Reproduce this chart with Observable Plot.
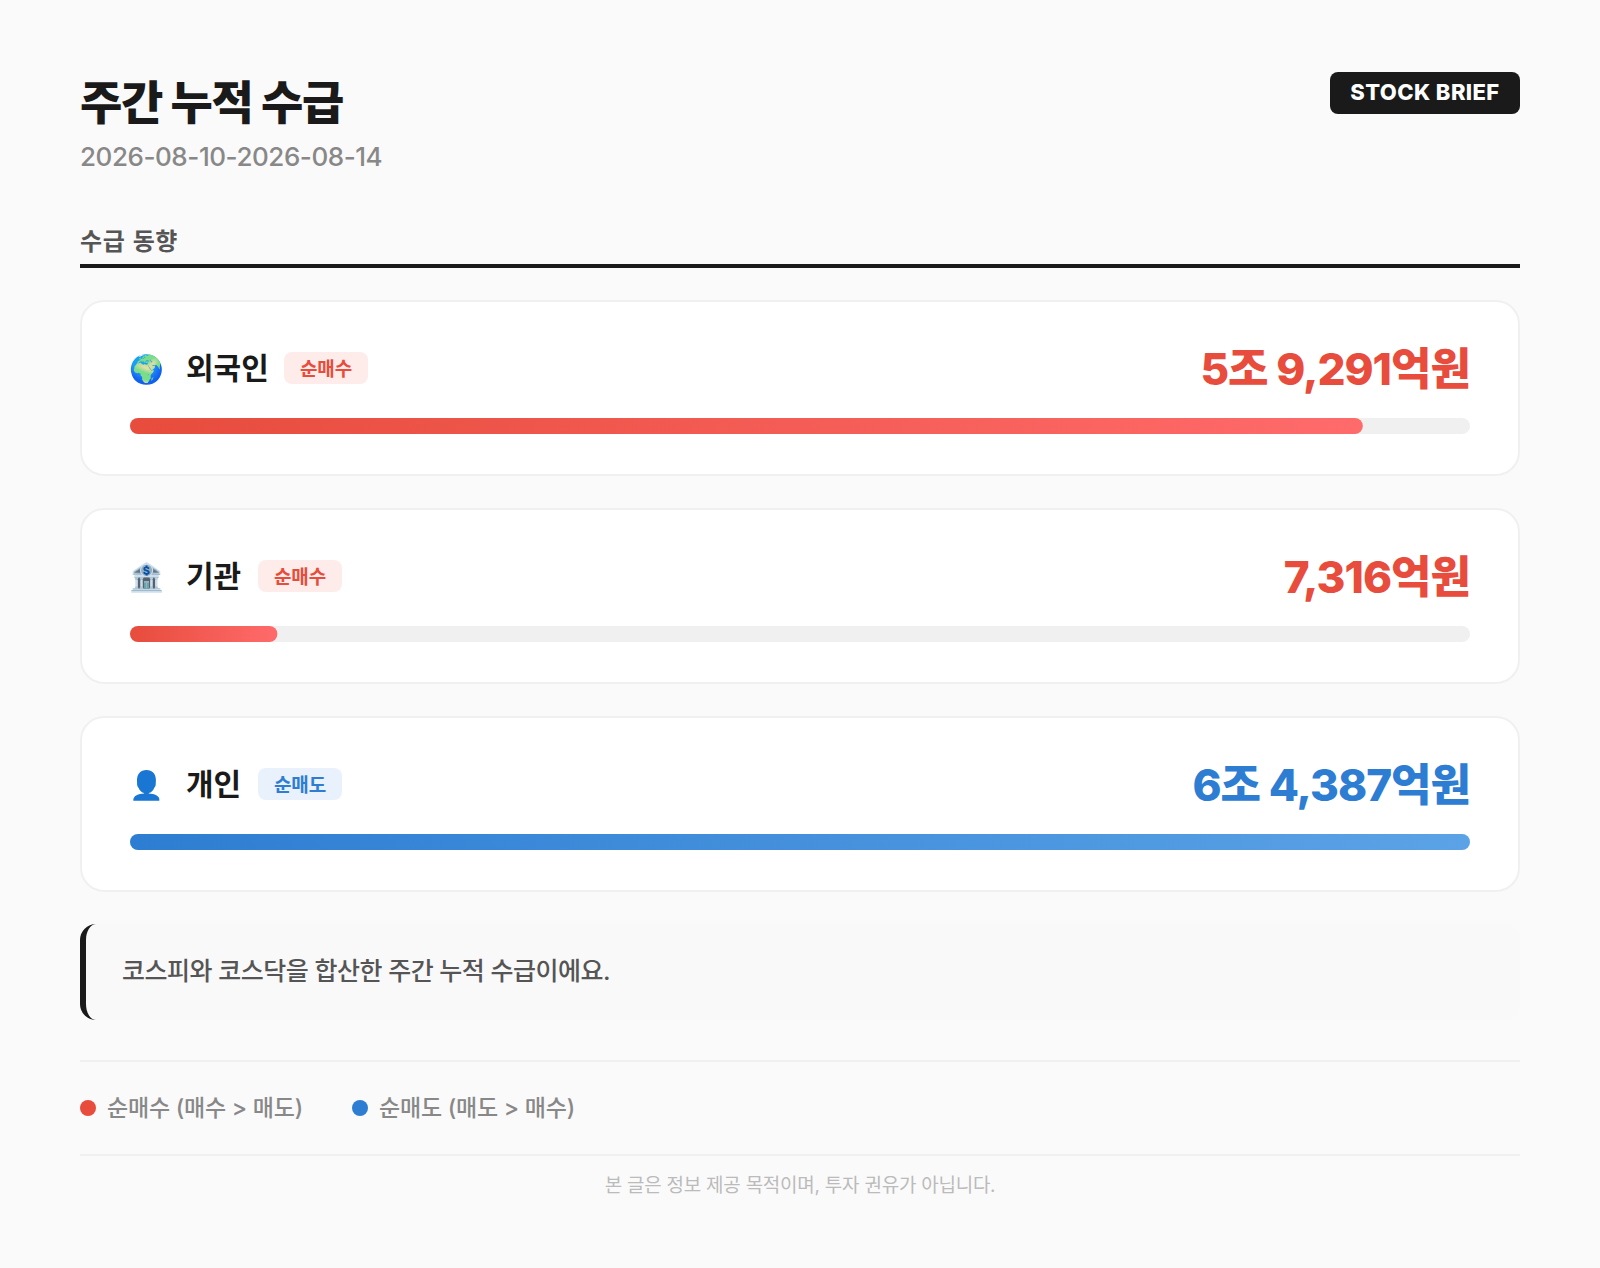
<!DOCTYPE html>
<html lang="ko">
<head>
<meta charset="utf-8">
<script src="https://cdn.jsdelivr.net/npm/d3@7"></script>
<script src="https://cdn.jsdelivr.net/npm/@observablehq/plot@0.6"></script>
<style>
*{box-sizing:border-box}
html,body{margin:0;padding:0;background:#fafafa}
body{width:1600px;height:1268px;position:relative;overflow:hidden;font-family:Inter,"Noto Sans CJK KR",sans-serif;color:#1a1a1a}
.abs{position:absolute;white-space:nowrap}
#title{left:80px;top:70px;font-size:46px;font-weight:800;line-height:64px;letter-spacing:-1.4px}
#sub{left:80px;top:140px;font-size:26px;font-weight:500;line-height:34px;color:#888;letter-spacing:-.44px}
#badge{left:1330px;top:72px;width:190px;height:42px;background:#1a1a1a;color:#fff;border-radius:8px;font-size:22px;font-weight:800;letter-spacing:.4px;line-height:41px;text-align:center}
#section{left:80px;top:225px;width:1440px;height:43px;border-bottom:4px solid #1a1a1a;font-size:24px;font-weight:700;color:#555;letter-spacing:.6px;line-height:34px;word-spacing:1px}
.card{position:absolute;left:80px;width:1440px;height:176px;background:#fff;border:2px solid #f0f0f0;border-radius:24px}
.ico{position:absolute;left:47px;top:51px;width:32px;height:32px;font-size:28px;line-height:32px}
.name{position:absolute;left:104px;top:44px;font-size:30px;font-weight:700;line-height:44px;white-space:nowrap;letter-spacing:0}
.pill{position:absolute;top:50px;width:84px;height:32px;border-radius:8px;font-size:19px;font-weight:700;line-height:35px;text-align:center;letter-spacing:-.2px}
.val{position:absolute;right:48px;top:35px;font-size:44px;font-weight:800;line-height:64px;white-space:nowrap;letter-spacing:-1px}
.plot{position:absolute;left:48px;top:116px;width:1340px;height:16px}
.plot svg{display:block}
#note{left:80px;top:924px;width:1440px;height:96px;background:#f9f9f9;border-left:6px solid #1a1a1a;border-radius:16px;padding-left:36px;font-size:25px;font-weight:500;line-height:94px;color:#555;letter-spacing:-.49px}
.hr{position:absolute;left:80px;width:1440px;height:2px;background:#f0f0f0}
.dot{position:absolute;top:1100px;width:16px;height:16px;border-radius:50%}
.leg{top:1090px;font-size:23px;line-height:36px;font-weight:500;color:#888;letter-spacing:-.22px}
#foot{left:80px;width:1440px;top:1171px;text-align:center;font-size:19px;line-height:30px;color:#bbb;letter-spacing:-.25px}
</style>
</head>
<body>
<div class="abs" id="title">주간 누적 수급</div>
<div class="abs" id="sub">2026-08-10-2026-08-14</div>
<div class="abs" id="badge">STOCK BRIEF</div>
<div class="abs" id="section">수급 동향</div>
<div id="cards"></div>
<div class="abs" id="note">코스피와 코스닥을 합산한 주간 누적 수급이에요.</div>
<div class="hr" style="top:1060px"></div>
<div class="dot" style="left:80px;background:#e74c3c"></div>
<div class="abs leg" style="left:107px">순매수 (매수 &gt; 매도)</div>
<div class="dot" style="left:352px;background:#2d7dd2"></div>
<div class="abs leg" style="left:379px">순매도 (매도 &gt; 매수)</div>
<div class="hr" style="top:1154px"></div>
<div class="abs" id="foot">본 글은 정보 제공 목적이며, 투자 권유가 아닙니다.</div>
<script>
const investors = ["외국인", "기관", "개인"];
const icons = ["🌍", "🏦", "👤"];
const directions = ["순매수", "순매수", "순매도"];
const amountLabels = ["5조 9,291억원", "7,316억원", "6조 4,387억원"];
const barShares = [92, 11, 100];
const scaleMax = 100;
const palette = {
  "순매수": {text: "#e74c3c", pill: "#fdecea", from: "#e74c3c", to: "#ff6b6b"},
  "순매도": {text: "#2d7dd2", pill: "#e8f1fc", from: "#2d7dd2", to: "#5ba3e6"}
};
const pillLeft = [202, 176, 176];
const cards = document.getElementById("cards");
investors.forEach((name, i) => {
  const p = palette[directions[i]];
  const card = document.createElement("div");
  card.className = "card";
  card.style.top = (300 + 208 * i) + "px";
  card.innerHTML = `<div class="ico">${icons[i]}</div><div class="name">${name}</div>` +
    `<div class="pill" style="left:${pillLeft[i]}px;background:${p.pill};color:${p.text}">${directions[i]}</div>` +
    `<div class="val" style="color:${p.text}">${amountLabels[i]}</div><div class="plot"></div>`;
  cards.appendChild(card);
  const gid = "grad" + i;
  const chart = Plot.plot({
    width: 1340, height: 16,
    margin: 0,
    x: {domain: [0, scaleMax], axis: null},
    y: {domain: [name], axis: null, padding: 0},
    marks: [
      Plot.barX([scaleMax], {x: d => d, y: () => name, fill: "#f0f0f0", rx: 8}),
      Plot.barX([barShares[i]], {x: d => d, y: () => name, fill: `url(#${gid})`, rx: 8})
    ],
    style: {background: "transparent"}
  });
  const defs = d3.create("svg:defs");
  const g = defs.append("linearGradient").attr("id", gid);
  g.append("stop").attr("offset", "0%").attr("stop-color", p.from);
  g.append("stop").attr("offset", "100%").attr("stop-color", p.to);
  chart.prepend(defs.node());
  card.querySelector(".plot").appendChild(chart);
});
</script>
</body>
</html>
